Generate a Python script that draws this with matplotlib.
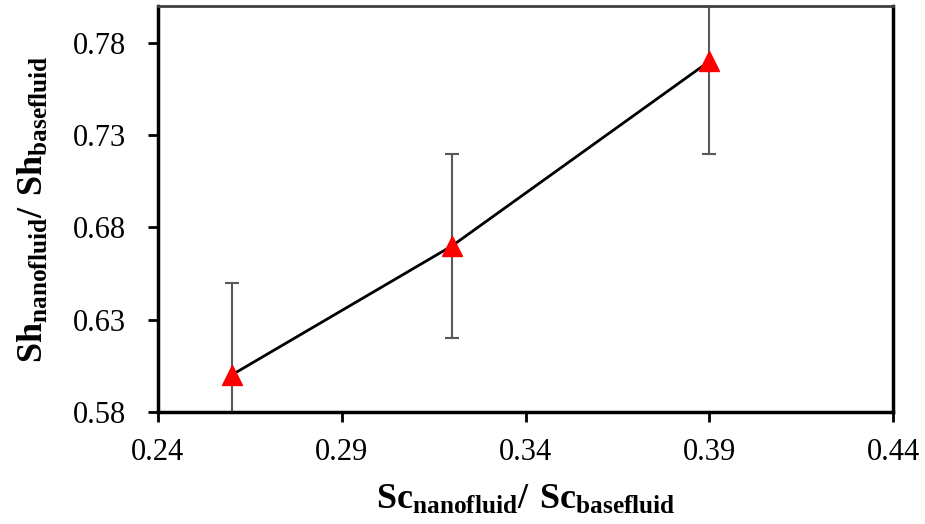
import numpy as np
import matplotlib
matplotlib.use('Agg')
import matplotlib.pyplot as plt

matplotlib.rcParams['font.family'] = 'Liberation Serif'
matplotlib.rcParams['mathtext.fontset'] = 'custom'
matplotlib.rcParams['mathtext.rm'] = 'Liberation Serif'
matplotlib.rcParams['mathtext.bf'] = 'Liberation Serif:bold'

# data
sc_ratio = [0.260, 0.320, 0.390]
sh_ratio = [0.600, 0.670, 0.770]
sh_err = [0.05, 0.05, 0.05]

x_ticks = [0.24, 0.29, 0.34, 0.39, 0.44]
y_ticks = [0.58, 0.63, 0.68, 0.73, 0.78]

fig = plt.figure(figsize=(9.25, 5.24), dpi=100)
ax = fig.add_axes([158 / 925, 1 - 412 / 524, 735 / 925, 406 / 524])

ax.errorbar(sc_ratio, sh_ratio, yerr=sh_err, fmt='none', ecolor='#595959',
            elinewidth=1.5, capsize=5, capthick=1.5, zorder=2)
ax.plot(sc_ratio, sh_ratio, color='black', lw=2, zorder=3)
ax.plot(sc_ratio, sh_ratio, linestyle='none', marker='^', markersize=15,
        color='red', markeredgecolor='red', zorder=4)

ax.set_xlim(0.24, 0.44)
ax.set_ylim(0.58, 0.80)
ax.set_xticks(x_ticks)
ax.set_yticks(y_ticks)
ax.set_xticklabels([f'{v:.2f}' for v in x_ticks])
ax.set_yticklabels([f'{v:.2f}' for v in y_ticks])
ax.tick_params(direction='out', length=7, width=2, labelsize=22, pad=16)
ax.tick_params(axis='x', pad=12)

for side in ['left', 'bottom', 'right']:
    ax.spines[side].set_linewidth(2.5)
    ax.spines[side].set_color('black')
ax.spines['top'].set_linewidth(2)
ax.spines['top'].set_color('#404040')

ax.set_xlabel(r'$\mathbf{Sc_{nanofluid}/\ Sc_{basefluid}}$', fontsize=26, labelpad=12)
ax.set_ylabel(r'$\mathbf{Sh_{nanofluid}/\ Sh_{basefluid}}$', fontsize=26, labelpad=16)

plt.savefig('out.png', dpi=100)
